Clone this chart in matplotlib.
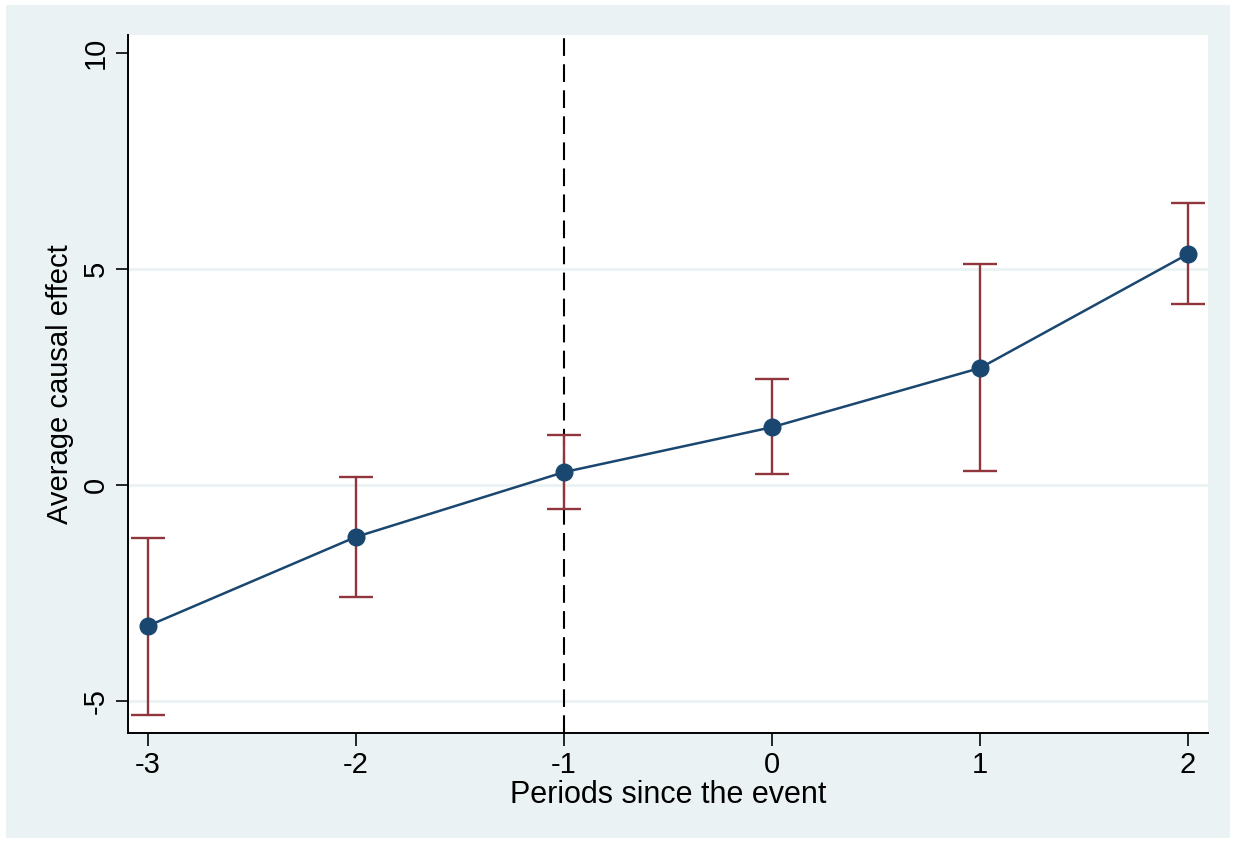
import matplotlib.pyplot as plt
from matplotlib.patches import Rectangle

plt.rcParams['font.family'] = ['Liberation Sans', 'DejaVu Sans']

periods = [-3, -2, -1, 0, 1, 2]
effect = [-3.26, -1.20, 0.30, 1.34, 2.71, 5.35]
ci_low = [-5.32, -2.59, -0.56, 0.25, 0.32, 4.19]
ci_high = [-1.23, 0.19, 1.16, 2.45, 5.12, 6.53]
yticks = [-5, 0, 5, 10]
xticks = [-3, -2, -1, 0, 1, 2]

bg = '#eaf2f3'
navy = '#1a476f'
maroon = '#90353b'

fig = plt.figure(figsize=(12.36, 8.42), dpi=100)
fig.patch.set_facecolor('white')
fig.patches.append(Rectangle((6 / 1236, 4 / 842), 1224 / 1236, 833 / 842,
                             transform=fig.transFigure, facecolor=bg,
                             edgecolor='none', zorder=-10))

ax = fig.add_axes([128 / 1236, 1 - 733 / 842, 1080 / 1236, 698 / 842])
ax.set_facecolor('white')

for g in [-5, 0, 5]:
    ax.axhline(g, color=bg, lw=2, zorder=1)

ax.axvline(-1, color='black', lw=1.5, dashes=(8.5, 4), zorder=2)

yerr = [[e - lo for e, lo in zip(effect, ci_low)],
        [hi - e for e, hi in zip(effect, ci_high)]]
ax.errorbar(periods, effect, yerr=yerr, fmt='none', ecolor=maroon,
            elinewidth=1.7, capsize=12, capthick=1.7, zorder=3)
ax.plot(periods, effect, color=navy, lw=1.8, marker='o', ms=12,
        markerfacecolor=navy, markeredgecolor=navy, zorder=4)

ax.set_xlim(-3.096, 2.096)
ax.set_ylim(-5.74, 10.42)
ax.set_xticks(xticks)
ax.set_xticklabels([str(t) for t in xticks])
ax.set_yticks(yticks)
ax.set_yticklabels([str(t) for t in yticks], rotation=90, va='center')
ax.tick_params(axis='both', labelsize=21, length=9, width=1.2, color='black')
ax.tick_params(axis='x', pad=4)
ax.tick_params(axis='y', pad=4)

for s in ['top', 'right']:
    ax.spines[s].set_visible(False)
for s in ['left', 'bottom']:
    ax.spines[s].set_linewidth(1.4)

ax.set_xlabel('Periods since the event', fontsize=22, labelpad=1)
ax.set_ylabel('Average causal effect', fontsize=21, labelpad=6)

fig.savefig('out.png', dpi=100, facecolor=fig.get_facecolor())
